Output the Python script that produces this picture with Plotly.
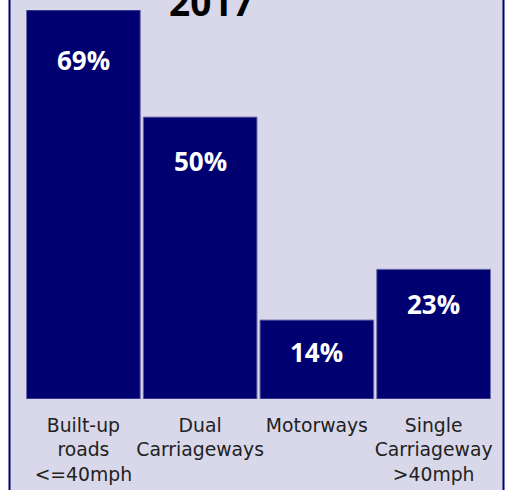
import plotly.graph_objects as go

categories = ["Built-up<br>roads<br><=40mph", "Dual<br>Carriageways", "Motorways",
              "Single<br>Carriageway<br>>40mph"]
values = [69, 50, 14, 23]
value_labels = ["69%", "50%", "14%", "23%"]
title_text = "2017"

W, H = 510, 490
ML, MR, MT, MB = 25, 18, 10, 91
plot_w = W - ML - MR
plot_h = H - MT - MB

fig = go.Figure()
fig.add_trace(go.Bar(
    x=categories, y=values,
    marker=dict(color="#000070", line=dict(color="#6a6aa8", width=1)),
    hoverinfo="skip",
))

# value labels sit inside the bar, a little below its top
for c, v, t in zip(categories, values, value_labels):
    fig.add_annotation(x=c, y=0.94 * v - 4.8, xref="x", yref="y",
                       text="<b>" + t + "</b>", showarrow=False, yanchor="middle",
                       font=dict(family="Open Sans", size=26, color="white"))

# lavender panel with navy border
fig.add_shape(type="rect", xref="paper", yref="paper",
              x0=(9.5 - ML) / plot_w, x1=(503.5 - ML) / plot_w,
              y0=-0.5, y1=1.5, layer="below",
              fillcolor="#d9d8ea", line=dict(color="#000070", width=2))

fig.add_annotation(text="<b>" + title_text + "</b>", xref="paper", yref="paper",
                   x=(211.5 - ML) / plot_w, y=1 + (MT - 1) / plot_h,
                   xanchor="center", yanchor="middle", showarrow=False,
                   font=dict(family="Open Sans", size=37, color="black"))

fig.update_layout(
    width=W, height=H,
    margin=dict(l=ML, r=MR, t=MT, b=MB, pad=0, autoexpand=False),
    paper_bgcolor="white",
    plot_bgcolor="rgba(0,0,0,0)",
    bargap=0.026,
    showlegend=False,
    xaxis=dict(showgrid=False, zeroline=False, showline=False, ticks="",
               tickangle=0, automargin=False,
               ticklabelstandoff=13,
               tickfont=dict(family="DejaVu Sans", size=18.8, color="#222222"),
               fixedrange=True),
    yaxis=dict(range=[0, 69], showgrid=False, zeroline=False, showline=False,
               showticklabels=False, ticks="", fixedrange=True, automargin=False),
)

fig.write_html("out.html", config={"displayModeBar": False},
               post_script="document.body.style.margin='0';"
                           "document.body.style.overflow='hidden';")
